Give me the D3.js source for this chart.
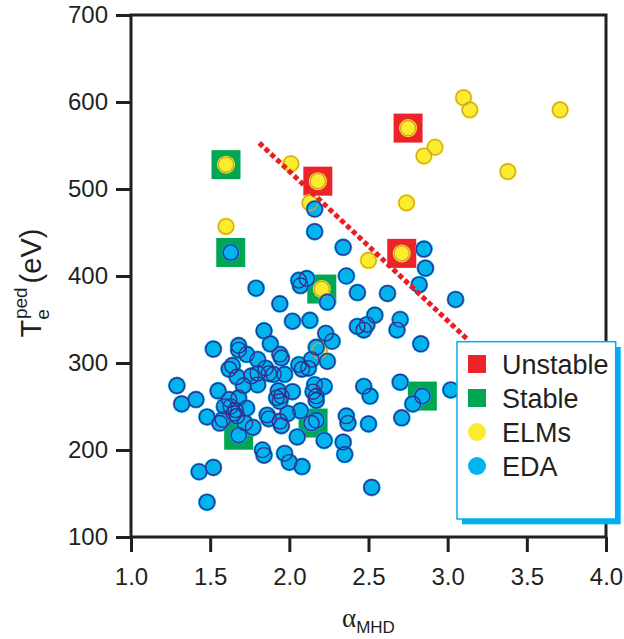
<!DOCTYPE html>
<html>
<head>
<meta charset="utf-8">
<script src="https://cdn.jsdelivr.net/npm/d3@7"></script>
<style>
  body { margin: 0; background: #fff; }
  svg { display: block; font-family: "Liberation Sans", Arial, sans-serif; }
</style>
</head>
<body>
<div id="chart"></div>
<script>
// EDA shots (alpha_MHD, Te ped in eV)
const edaAlpha = [2.16, 2.16, 2.34, 1.63, 2.06, 2.11, 2.07, 2.36, 2.85, 2.86, 2.82, 1.79, 2.24, 2.43, 2.62, 1.94, 3.05,
  2.02, 2.13, 2.54, 2.43, 2.49, 2.47, 2.70, 2.68, 1.84, 2.23, 2.27, 2.83, 1.88, 1.94, 1.95, 2.17, 2.14, 2.24, 2.06, 2.12,
  1.52, 1.68, 1.68, 1.73, 1.80, 1.62, 1.64, 1.67, 1.71, 1.76, 1.80, 1.85, 1.87, 1.90, 1.80, 1.97, 2.08,
  1.29, 1.32, 1.41, 1.55, 1.62, 1.59, 1.63, 1.66, 1.68, 1.73, 1.67, 1.65, 1.72, 1.77, 1.68,
  1.93, 1.92, 1.94, 1.95, 2.02, 1.86, 1.87, 1.94, 1.95, 1.99, 2.07, 2.16, 2.15, 2.17, 2.17, 2.22, 2.14, 2.17,
  1.48, 1.56, 1.58, 2.05, 2.22, 1.83, 1.84, 1.97, 2.00, 2.08, 2.34, 2.35, 2.36, 2.37, 1.43, 1.52, 1.48,
  2.47, 2.51, 2.70, 2.84, 2.78, 3.02, 2.50, 2.71, 2.52];
const edaTe = [477, 451, 433, 427, 395, 397, 389, 400, 431, 409, 390, 386, 370, 381, 380, 368, 373,
  348, 349, 355, 342, 344, 338, 350, 338, 337, 334, 325, 322, 322, 310, 306, 318, 304, 302, 298, 294,
  316, 320, 315, 310, 304, 293, 297, 284, 274, 285, 288, 294, 288, 287, 275, 287, 293,
  274, 253, 258, 268, 258, 250, 250, 246, 260, 248, 239, 242, 231, 226, 217,
  268, 260, 256, 262, 267, 240, 236, 233, 228, 242, 245, 275, 267, 262, 257, 273, 231, 234,
  238, 231, 235, 215, 211, 200, 194, 196, 186, 181, 209, 195, 239, 231, 175, 180, 140,
  273, 262, 278, 262, 253, 269, 230, 237, 157];

// ELM shots
const elmAlpha = [1.60, 2.01, 2.18, 2.13, 1.60, 3.10, 3.14, 3.71, 2.75, 2.92, 2.85, 3.38, 2.74, 2.71, 2.50, 2.205, 2.19];
const elmTe = [528, 529, 509, 484, 457, 605, 591, 591, 570, 548, 538, 520, 484, 426, 418, 385, 314];

// MHD stability analysis
const unstableAlpha = [2.18, 2.75, 2.71];
const unstableTe = [509, 570, 426];
const stableAlpha = [1.60, 1.63, 2.205, 2.15, 1.68, 2.84];
const stableTe = [528, 427, 385, 231, 217, 262];

// dotted boundary
const boundaryAlpha = [1.81, 3.12];
const boundaryTe = [553, 328];

const xTicks = [1.0, 1.5, 2.0, 2.5, 3.0, 3.5, 4.0];
const yTicks = [100, 200, 300, 400, 500, 600, 700];
const legendLabels = ['Unstable', 'Stable', 'ELMs', 'EDA'];

const width = 624, height = 639;
const ink = '#231f20';
const red = '#ec2328', green = '#00a651';
const yellow = '#fbec2e', gold = '#d2a42c';
const cyan = '#00b5ee', navy = '#2e3192';

const svg = d3.select('#chart').append('svg')
  .attr('width', width)
  .attr('height', height);

const x = d3.scaleLinear().domain([1, 4]).range([131, 606]);
const y = d3.scaleLinear().domain([100, 700]).range([537, 15]);

const eda = edaAlpha.map((a, i) => ({ a, t: edaTe[i] }));
const elms = elmAlpha.map((a, i) => ({ a, t: elmTe[i] }));
const unstable = unstableAlpha.map((a, i) => ({ a, t: unstableTe[i] }));
const stable = stableAlpha.map((a, i) => ({ a, t: stableTe[i] }));

// squares under the circles
const sq = 29;
svg.append('g').selectAll('rect')
  .data(stable.map(d => ({ ...d, c: green })).concat(unstable.map(d => ({ ...d, c: red }))))
  .join('rect')
  .attr('x', d => x(d.a) - sq / 2)
  .attr('y', d => y(d.t) - sq / 2)
  .attr('width', sq)
  .attr('height', sq)
  .attr('fill', d => d.c);

// fills first, then outlines on top
svg.append('g').selectAll('circle').data(elms).join('circle')
  .attr('cx', d => x(d.a)).attr('cy', d => y(d.t)).attr('r', 9)
  .attr('fill', yellow);
svg.append('g').selectAll('circle').data(eda).join('circle')
  .attr('cx', d => x(d.a)).attr('cy', d => y(d.t)).attr('r', 9)
  .attr('fill', cyan);
svg.append('g').selectAll('circle').data(elms).join('circle')
  .attr('cx', d => x(d.a)).attr('cy', d => y(d.t)).attr('r', 7.6)
  .attr('fill', 'none').attr('stroke', gold).attr('stroke-width', 1.3);
svg.append('g').selectAll('circle').data(eda).join('circle')
  .attr('cx', d => x(d.a)).attr('cy', d => y(d.t)).attr('r', 7.6)
  .attr('fill', 'none').attr('stroke', navy).attr('stroke-width', 1.4);

// boundary
svg.append('path')
  .datum(boundaryAlpha.map((a, i) => [a, boundaryTe[i]]))
  .attr('d', d3.line().x(d => x(d[0])).y(d => y(d[1])))
  .attr('fill', 'none')
  .attr('stroke', '#ed1c24')
  .attr('stroke-width', 5)
  .attr('stroke-dasharray', '5,3');

// frame
svg.append('rect')
  .attr('x', 131).attr('y', 15)
  .attr('width', 475).attr('height', 522)
  .attr('fill', 'none')
  .attr('stroke', ink)
  .attr('stroke-width', 3);

// axes
const xAxis = svg.append('g')
  .attr('transform', 'translate(0,537)')
  .call(d3.axisBottom(x).tickValues(xTicks).tickFormat(d3.format('.1f')).tickSize(15).tickSizeOuter(0).tickPadding(16));
const yAxis = svg.append('g')
  .attr('transform', 'translate(131,0)')
  .call(d3.axisLeft(y).tickValues(yTicks).tickFormat(d3.format('d')).tickSize(15).tickSizeOuter(0).tickPadding(8));

[xAxis, yAxis].forEach(g => {
  g.select('.domain').remove();
  g.selectAll('line').attr('stroke', ink).attr('stroke-width', 3);
  g.selectAll('text')
    .attr('fill', ink)
    .style('font-size', '24px')
    .style('font-family', '"Liberation Sans", Arial, sans-serif');
});

// x title
const xt = svg.append('text')
  .attr('x', 342)
  .attr('y', 627)
  .attr('fill', ink);
xt.append('tspan')
  .style('font-family', '"Liberation Serif", "DejaVu Serif", serif')
  .style('font-size', '27px')
  .text('α');
xt.append('tspan')
  .attr('dy', 6)
  .style('font-size', '17px')
  .text('MHD');

// y title
const yt = svg.append('text')
  .attr('transform', 'translate(41,283) rotate(-90)')
  .attr('text-anchor', 'middle')
  .attr('fill', ink)
  .style('font-size', '29px');
yt.append('tspan').text('T');
yt.append('tspan').attr('dy', 8).style('font-size', '19px').text('e');
yt.append('tspan').attr('dx', -10).attr('dy', -22).style('font-size', '19px').text('ped');
yt.append('tspan').attr('dx', 4).attr('dy', 14).text('(eV)');

// legend
const lg = svg.append('g');
lg.append('rect')
  .attr('x', 462).attr('y', 347)
  .attr('width', 158.7).attr('height', 177.3)
  .attr('fill', '#00aeef');
lg.append('rect')
  .attr('x', 457).attr('y', 341.7)
  .attr('width', 158.7).attr('height', 177.3)
  .attr('fill', '#fff')
  .attr('stroke', '#00aeef')
  .attr('stroke-width', 1.5);

const rowY = d3.scalePoint().domain(legendLabels).range([364, 466]);
const legendColor = { Unstable: red, Stable: green, ELMs: yellow, EDA: cyan };
legendLabels.forEach(lbl => {
  const cy = rowY(lbl);
  if (lbl === 'Unstable' || lbl === 'Stable') {
    lg.append('rect')
      .attr('x', 477 - 9).attr('y', cy - 9)
      .attr('width', 18).attr('height', 18)
      .attr('fill', legendColor[lbl]);
  } else {
    lg.append('circle')
      .attr('cx', 477).attr('cy', cy).attr('r', 9)
      .attr('fill', legendColor[lbl]);
  }
  lg.append('text')
    .attr('x', 502)
    .attr('y', cy + 9.5)
    .attr('fill', ink)
    .style('font-size', '27px')
    .text(lbl);
});
</script>
</body>
</html>
